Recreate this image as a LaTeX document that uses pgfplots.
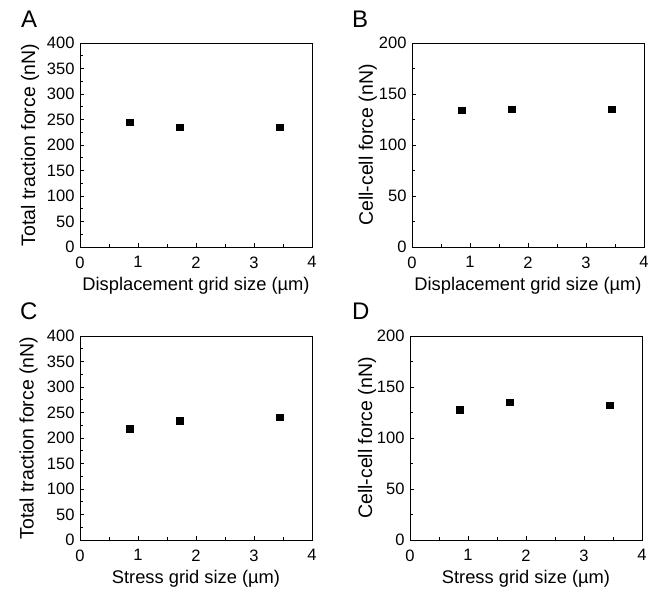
\documentclass[border=0pt]{standalone}
\usepackage{fontspec}
\setmainfont{Liberation Sans}
\usepackage{pgfplots}
\pgfplotsset{compat=1.18}

\pgfplotsset{
  panel/.style={
    scale only axis, width=232pt, height=204pt,
    xmin=0, xmax=4, xtick={0,1,2,3,4},
    ymin=0,
    minor x tick num=1, minor y tick num=1,
    tick pos=left, tick align=inside,
    major tick length=4pt, minor tick length=3pt,
    axis line style={line width=0.9pt},
    every tick/.style={black, line width=0.8pt},
    tick label style={font=\fontsize{16.5}{19}\selectfont},
    xticklabel style={yshift=-6pt},
    yticklabel style={xshift=-2pt},
    /pgf/number format/assume math mode=true,
    xlabel style={font=\fontsize{18.3}{21}\selectfont, anchor=center,
      at={(axis description cs:0.5,-0.19)}},
    ylabel style={font=\fontsize{19.5}{23}\selectfont, anchor=center},
    clip=false,
  },
  pts/.style={only marks, mark=square*, mark size=3.3pt, black, mark options={fill=black}},
}

\begin{document}
\begin{tikzpicture}
\path[use as bounding box] (0,0) rectangle (657pt,-596pt);

% A
\begin{axis}[panel, at={(80pt,-43pt)}, anchor=north west,
  ymax=400, ytick={0,50,...,400},
  xlabel={Displacement grid size (µm)},
  ylabel={Total traction force (nN)},
  ylabel style={at={(axis description cs:-0.215,0.5)}}]
  \addplot[pts] coordinates {(0.86,245) (1.72,235) (3.44,235)};
\end{axis}

% B
\begin{axis}[panel, at={(412pt,-43pt)}, anchor=north west,
  ymax=200, ytick={0,50,...,200},
  xlabel={Displacement grid size (µm)},
  ylabel={Cell-cell force (nN)},
  ylabel style={at={(axis description cs:-0.19,0.5)}}]
  \addplot[pts] coordinates {(0.86,134) (1.72,135) (3.44,135)};
\end{axis}

% C
\begin{axis}[panel, at={(80pt,-336pt)}, anchor=north west,
  ymax=400, ytick={0,50,...,400},
  xlabel={Stress grid size (µm)},
  ylabel={Total traction force (nN)},
  ylabel style={at={(axis description cs:-0.222,0.5)}}]
  \addplot[pts] coordinates {(0.86,218) (1.72,234) (3.44,241)};
\end{axis}

% D
\begin{axis}[panel, at={(410pt,-336pt)}, anchor=north west,
  ymax=200, ytick={0,50,...,200},
  xlabel={Stress grid size (µm)},
  ylabel={Cell-cell force (nN)},
  ylabel style={at={(axis description cs:-0.185,0.5)}}]
  \addplot[pts] coordinates {(0.86,128) (1.72,135) (3.44,132)};
\end{axis}

\foreach \lab/\x/\y in {A/21/28, B/352/28, C/20/320, D/352/320}
  \node[anchor=base west, inner sep=0pt, font=\fontsize{24}{28}\selectfont] at (\x pt,-\y pt) {\lab};
\end{tikzpicture}
\end{document}
